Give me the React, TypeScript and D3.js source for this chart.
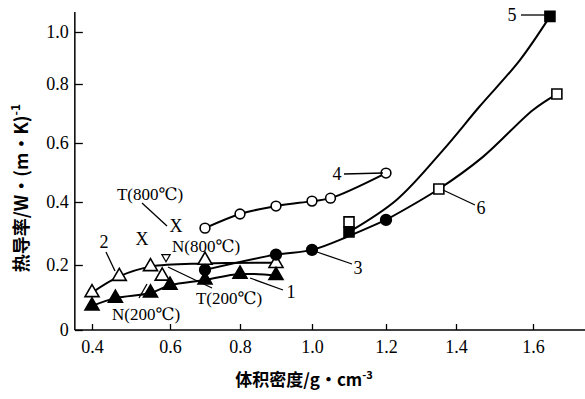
import React, { useEffect, useRef } from 'react';
import * as d3 from 'd3';

// x ticks / y ticks (the scan is slightly uneven, so the scales are piecewise)
const xTicks = [0.4, 0.6, 0.8, 1.0, 1.2, 1.4, 1.6];
const xTickPx = [92, 170, 240, 312, 386, 456, 533];
const yTicks = [0, 0.2, 0.4, 0.6, 0.8, 1.0];
const yTickPx = [330, 265, 202, 143, 84, 32];

// curve 1 - filled triangles
const s1 = [[0.4, 0.074], [0.46, 0.098], [0.55, 0.114], [0.6, 0.138], [0.7, 0.154], [0.8, 0.172], [0.9, 0.168]];
// curve 2 - open triangles
const s2Line = [[0.4, 0.115], [0.47, 0.165], [0.55, 0.195], [0.7, 0.205], [0.9, 0.207]];
const s2 = [[0.4, 0.115], [0.47, 0.165], [0.55, 0.195], [0.58, 0.166], [0.7, 0.215], [0.9, 0.205]];
// curve 3 - filled circles
const s3Line = [[0.7, 0.185], [0.9, 0.233], [1.0, 0.248], [1.1, 0.292], [1.2, 0.343]];
const s3 = [[0.7, 0.185], [0.9, 0.233], [1.0, 0.248], [1.2, 0.343]];
// curve 4 - open circles
const s4 = [[0.7, 0.317], [0.8, 0.362], [0.9, 0.387], [1.0, 0.403], [1.05, 0.413], [1.2, 0.498]];
// curve 5 - filled squares
const s5Line = [[1.1, 0.305], [1.23, 0.407], [1.363, 0.576], [1.46, 0.722], [1.566, 0.892], [1.644, 1.06]];
const s5 = [[1.1, 0.305], [1.644, 1.06]];
// curve 6 - open squares
const s6Line = [[1.2, 0.343], [1.351, 0.444], [1.47, 0.553], [1.6, 0.712], [1.662, 0.766]];
const s6 = [[1.1, 0.337], [1.351, 0.444], [1.662, 0.766]];

const W = 585;
const H = 399;

const App = () => {
  const svgRef = useRef(null);

  useEffect(() => {
    document.body.style.margin = '0';
    const svg = d3.select(svgRef.current);
    svg.selectAll('*').remove();

    const x = d3.scaleLinear().domain(xTicks).range(xTickPx);
    const y = d3.scaleLinear().domain(yTicks).range(yTickPx);
    const serif = '"Liberation Serif", "DejaVu Serif", serif';

    // axes
    const xAxis = svg.append('g').attr('transform', `translate(0,${y(0)})`)
      .attr('font-family', serif)
      .call(d3.axisBottom(x).tickValues(xTicks).tickSizeInner(-6).tickSizeOuter(0).tickPadding(10).tickFormat(d3.format('.1f')));
    xAxis.select('.domain').attr('d', `M${x(0.356)},0H${W}`).attr('stroke-width', 1.5);
    const yAxis = svg.append('g').attr('transform', `translate(${x(0.356)},0)`)
      .call(d3.axisLeft(y).tickValues(yTicks).tickSizeInner(-8).tickSizeOuter(0).tickPadding(6)
        .tickFormat(d => (d === 0 ? '0' : d3.format('.1f')(d))));
    yAxis.select('.domain').attr('d', `M0,${y(0)}V12`).attr('stroke-width', 1.5);
    [xAxis, yAxis].forEach(a => {
      a.attr('font-family', serif).attr('font-size', 18);
      a.selectAll('text').attr('fill', '#000');
      a.selectAll('line').attr('stroke-width', 1.3);
    });
    xAxis.selectAll('.tick text').attr('dy', '0.71em');

    // axis titles
    svg.append('text')
      .attr('transform', 'translate(28,188) rotate(-90)')
      .attr('text-anchor', 'middle')
      .attr('font-family', '"Noto Sans CJK SC", sans-serif')
      .attr('font-weight', 'bold')
      .attr('font-size', 18)
      .text('热导率/W·(m·K)')
      .append('tspan').attr('dy', -8).attr('font-size', 12).text('-1');
    svg.append('text')
      .attr('x', 304).attr('y', 386)
      .attr('text-anchor', 'middle')
      .attr('font-family', '"Noto Sans CJK SC", sans-serif')
      .attr('font-weight', 'bold')
      .attr('font-size', 17)
      .text('体积密度/g·cm')
      .append('tspan').attr('dy', -7).attr('font-size', 11).text('-3');

    const line = d3.line().x(d => x(d[0])).y(d => y(d[1])).curve(d3.curveCatmullRom.alpha(0.5));
    const drawLine = data => svg.append('path').datum(data).attr('d', line)
      .attr('fill', 'none').attr('stroke', '#000').attr('stroke-width', 2);

    [s1, s2Line, s3Line, s4, s5Line, s6Line].forEach(drawLine);

    const sym = (data, type, size, filled) => svg.append('g').selectAll('path').data(data).enter().append('path')
      .attr('transform', d => `translate(${x(d[0])},${y(d[1])})`)
      .attr('d', d3.symbol(type, size)())
      .attr('fill', filled ? '#000' : '#fff')
      .attr('stroke', '#000').attr('stroke-width', 1.6);

    sym(s2, d3.symbolTriangle, 85, false);
    sym(s1, d3.symbolTriangle, 85, true);
    sym(s4, d3.symbolCircle, 75, false);
    sym(s3, d3.symbolCircle, 90, true);
    sym(s6, d3.symbolSquare, 100, false);
    sym(s5, d3.symbolSquare, 100, true);

    // annotations
    const label = (tx, ty, t, size = 18) => svg.append('text').attr('x', tx).attr('y', ty)
      .attr('text-anchor', 'middle').attr('dominant-baseline', 'central')
      .attr('font-family', serif).attr('font-size', size).text(t);
    const lead = (x1, y1, x2, y2) => svg.append('line').attr('x1', x1).attr('y1', y1).attr('x2', x2).attr('y2', y2)
      .attr('stroke', '#000').attr('stroke-width', 1.3);

    label(150, 194, 'T(800℃)', 17);
    lead(142, 203, 167, 226);
    label(176, 226, 'X', 18);
    label(142, 239, 'X', 18);
    label(206, 246, 'N(800℃)', 17);
    label(104, 242, '2');
    lead(106, 252, 115, 271);
    label(146, 314, 'N(200℃)', 17);
    lead(147, 284, 139, 298);
    label(229, 298, 'T(200℃)', 17);
    lead(168, 267, 212, 288);
    label(291, 292, '1');
    lead(250, 278, 283, 290);
    label(358, 268, '3');
    lead(317, 252, 352, 264);
    label(337, 174, '4');
    lead(344, 174, 383, 173);
    label(481, 208, '6');
    lead(443, 190, 475, 205);
    label(512, 15, '5');
    lead(521, 15, 546, 15);
    svg.append('path').attr('d', d3.symbol(d3.symbolTriangle, 30)())
      .attr('transform', `translate(166,257) rotate(180)`)
      .attr('fill', '#fff').attr('stroke', '#000').attr('stroke-width', 1.2);
  }, []);

  return <svg ref={svgRef} width={W} height={H} style={{ display: 'block', background: '#fff' }} />;
};

export default App;
